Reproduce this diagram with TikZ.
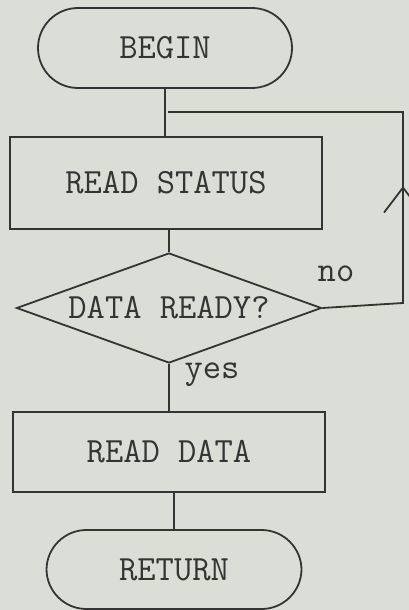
\documentclass[tikz,border=0pt]{standalone}
\usetikzlibrary{shapes.geometric,decorations.markings,arrows.meta}
\definecolor{paper}{RGB}{218,222,215}
\definecolor{ink}{RGB}{52,52,52}
\begin{document}
\begin{tikzpicture}[x=1pt,y=-1pt,
  every node/.style={font=\ttfamily\fontsize{35.5}{40}\selectfont, text=ink},
  lines/.style={draw=ink, line width=1.8pt},
  terminal/.style={lines, rectangle, rounded corners=40pt, minimum width=254pt, minimum height=80pt, inner sep=0pt},
  procbox/.style={lines, rectangle, minimum width=312pt, inner sep=0pt},
  decision/.style={lines, diamond, shape aspect=2.77, minimum width=305pt, minimum height=110pt, inner sep=0pt},
  lbl/.style={inner sep=0pt}
]
\fill[paper] (0,0) rectangle (409,610);
\useasboundingbox (0,0) rectangle (409,610);
\begin{scope}
\clip (0,0) rectangle (409,610);
\node[terminal] (begin) at (165,48) {BEGIN};
\node[procbox, minimum height=92pt] (rs) at (166,183) {READ STATUS};
\node[decision] (dr) at (169,308) {DATA READY?};
\node[procbox, minimum height=80pt] (rd) at (169,452) {READ DATA};
\node[terminal, minimum width=255pt, minimum height=79pt] (ret) at (174,569.5) {RETURN};
\node[lbl] (no) at (336,274) {no};
\node[lbl] (yes) at (212,375) {yes};
\coordinate (j) at (168,112);
\coordinate (c1) at (403,303);
\coordinate (c2) at (403,112);
\draw[lines] (begin.south) -- (rs.north -| begin.south);
\draw[lines] (rs.south -| dr.north) -- (dr.north);
\draw[lines] (dr.south) -- (rd.north -| dr.south);
\draw[lines] (rd.south -| ret.north) -- (ret.north);
\draw[lines, postaction={decorate}, decoration={markings,
   mark=at position 0.39 with {\arrow{Straight Barb[length=25pt,width=38pt,line width=1.8pt]}}}]
  (dr.east) -- (c1) -- (c2) -- (j);
\end{scope}
\end{tikzpicture}
\end{document}
